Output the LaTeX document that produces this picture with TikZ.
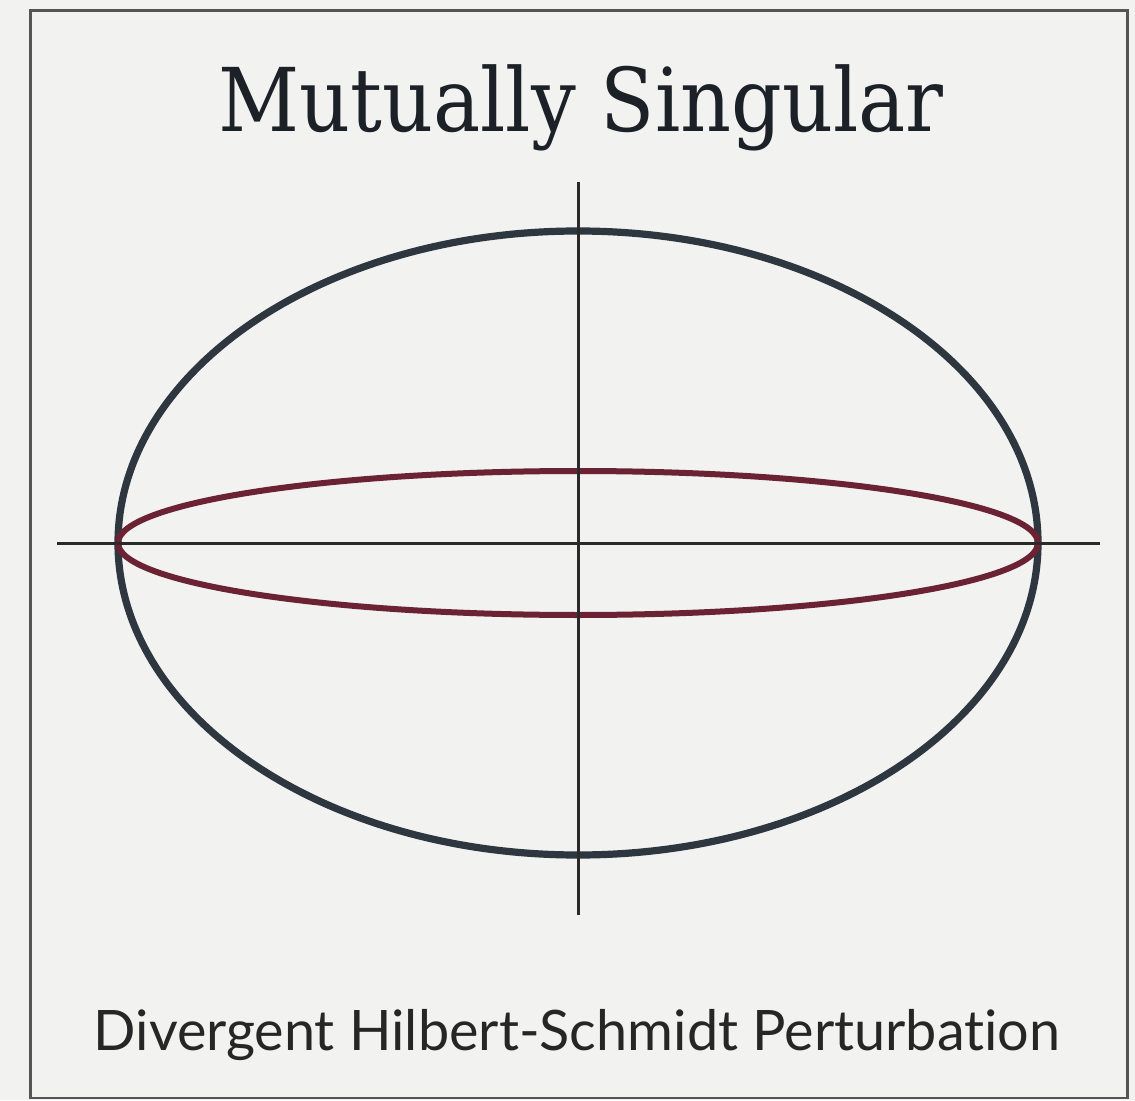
\documentclass[tikz,border=0pt]{standalone}
\usepackage{fontspec}
\usepackage{tikz}
\usepackage{xcolor}
\newfontfamily\titlefont{DejaVu Serif Condensed}
\newfontfamily\labelfont[Ligatures={NoCommon,NoRare}]{Lato}

\definecolor{paper}{HTML}{F2F2F0}
\definecolor{slate}{HTML}{2E3640}
\definecolor{wine}{HTML}{6B2233}
\definecolor{axisgray}{HTML}{2A2A2A}

\begin{document}
\begin{tikzpicture}[x=0.5pt,y=0.5pt]
  \useasboundingbox[fill=paper] (0,0) rectangle (1135,1100);
  \coordinate (O) at (578,557);
  \coordinate (W) at (57,557);
  \coordinate (E) at (1100,557);
  \coordinate (N) at (578,918);
  \coordinate (S) at (578,185);
  \draw[line width=1.25pt,draw=axisgray!80] (30.5,2) rectangle (1127.5,1089.5);
  \draw[line width=3.6pt,slate] (O) ellipse [x radius=460,y radius=312];
  \draw[line width=3pt,wine] (O) ellipse [x radius=460,y radius=72];
  \draw[line width=1.5pt,axisgray] (W)--(E);
  \draw[line width=1.5pt,axisgray] (N)--(S);
  \node[anchor=base,text=slate!60!black,font=\titlefont\fontsize{44}{50}\selectfont] (title) at (581,968) {Mutually Singular};
  \node[anchor=base,text=black!85,font=\labelfont\fontsize{27.9}{32}\selectfont] (caption) at (577,50) {Divergent Hilbert-Schmidt Perturbation};
\end{tikzpicture}
\end{document}
